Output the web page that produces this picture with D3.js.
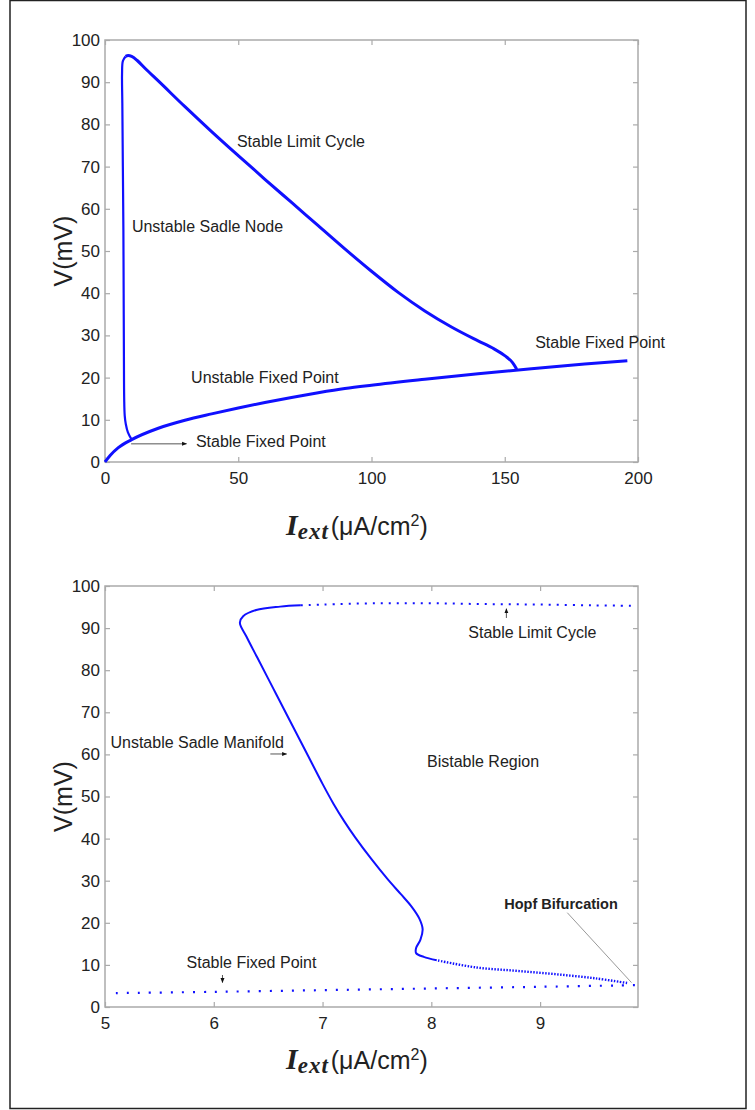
<!DOCTYPE html>
<html>
<head>
<meta charset="utf-8">
<script src="https://cdn.jsdelivr.net/npm/d3@7/dist/d3.min.js"></script>
<style>
  body { margin: 0; background: #fff; }
  svg { display: block; }
  .tick text { font-family: "Liberation Sans", Arial, sans-serif; font-size: 17px; fill: #222; }
  .tick line { stroke: #aaa; stroke-width: 1.2; }
  .note { font-family: "Liberation Sans", Arial, sans-serif; font-size: 16px; fill: #222; }
</style>
</head>
<body>
<svg id="chart" width="755" height="1110"></svg>
<script>
// ---- top panel: bifurcation diagram, I_ext 0..200 ----
const topXTicks = [0, 50, 100, 150, 200];
const vTicks = [0, 10, 20, 30, 40, 50, 60, 70, 80, 90, 100];

// fixed point branch [I, V]
const topFixedBranch = [[0,0],[2,1.6],[5,3.4],[10,5.3],[20,8],[30,9.9],[40,11.4],[50,12.8],[60,14.1],
  [70,15.3],[80,16.4],[90,17.4],[100,18.2],[120,19.6],[140,20.9],[160,22.1],[180,23.2],[196,24]];
// saddle node branch going up from the junction
const topSaddleBranch = [[10,5.3],[8.6,7],[7.8,9],[7.4,11],[7.2,15],[7.1,25],[7.0,40],[6.9,55],
  [6.7,70],[6.5,85],[6.4,92],[6.7,95],[7.7,96.1]];
// limit cycle maximum
const topLimitCycle = [[7.7,96.1],[8.7,96.3],[10,96.1],[12,95.2],[15,93.3],[20,90.3],[30,84.2],
  [40,78.3],[50,72.6],[60,67],[70,61.5],[80,56],[90,50.5],[100,45.2],[110,40.2],[120,35.8],
  [130,32],[140,28.7],[146,26.8],[150,25.2],[153,23.5],[154.5,22]];

const topNotes = [
  {text: "Stable Limit Cycle", I: 49.5, V: 74.6},
  {text: "Unstable Sadle Node", I: 10.1, V: 54.5},
  {text: "Stable Fixed Point", I: 161.4, V: 27.1},
  {text: "Unstable Fixed Point", I: 32.3, V: 18.7},
  {text: "Stable Fixed Point", I: 34.1, V: 3.5}
];
const topArrows = [{from: [9.8, 4.3], to: [30.6, 4.3]}];

// ---- bottom panel: zoom on I_ext 5..9.9 ----
const botXTicks = [5, 6, 7, 8, 9];
const botStableFixed = [[5.1,3.3],[6,3.6],[7,4.0],[8,4.4],[9,4.8],[9.9,5.2]];
const botHopfBranch = [[9.8,5.7],[9.51,6.8],[9.14,7.8],[8.78,8.6],[8.41,9.4],[8.05,11.1]];
const botManifold = [[8.05,11.1],[7.93,11.9],[7.86,12.8],[7.86,14],[7.9,16],[7.92,18.5],[7.89,21],
  [7.82,23.8],[7.72,26.8],[7.6,30.3],[7.45,35.1],[7.3,40.3],[7.2,44.1],[7.1,48.3],[7.0,53],
  [6.85,60.5],[6.7,68],[6.55,75.5],[6.4,83],[6.3,88],[6.24,91.3],[6.27,92.8],[6.39,94.3],
  [6.61,95.1],[6.8,95.4]];
const botStableCycle = [[6.8,95.4],[7.0,95.6],[7.5,95.9],[8,95.9],[8.5,95.7],[9,95.6],[9.5,95.4],[9.88,95.3]];

const botNotes = [
  {text: "Stable Limit Cycle", I: 8.34, V: 87.6},
  {text: "Bistable Region", I: 7.96, V: 57},
  {text: "Unstable Sadle Manifold", I: 5.05, V: 61.5},
  {text: "Stable Fixed Point", I: 5.75, V: 9.3},
  {text: "Hopf Bifurcation", I: 8.67, V: 23.3, bold: true}
];
const botArrows = [
  {from: [8.69, 92.4], to: [8.69, 94.6]},
  {from: [6.52, 60.1], to: [6.67, 60.1]},
  {from: [6.08, 7.6], to: [6.08, 5.8]}
];
const botHopfLine = [[9.25, 22.4], [9.84, 5.8]];

const svg = d3.select('#chart');

// page frame
svg.append('rect')
  .attr('x', 10).attr('y', 0.5)
  .attr('width', 736).attr('height', 1108)
  .attr('fill', 'none').attr('stroke', '#222').attr('stroke-width', 1.5);

svg.append('defs').append('marker')
  .attr('id', 'arrow')
  .attr('viewBox', '0 0 10 10')
  .attr('refX', 9).attr('refY', 5)
  .attr('markerWidth', 5).attr('markerHeight', 5)
  .attr('orient', 'auto')
  .append('path')
  .attr('d', 'M0,1 L10,5 L0,9 z')
  .attr('fill', '#111');

function drawPanel(p) {
  let x = d3.scaleLinear().domain(p.xDomain).range([105, 638]);
  let y = d3.scaleLinear().domain([0, 100]).range([p.bottom, p.top]);
  let g = svg.append('g');

  // bottom axis with labels
  g.append('g')
    .attr('transform', 'translate(0,' + p.bottom + ')')
    .call(d3.axisBottom(x).tickValues(p.xTicks).tickFormat(d3.format('d'))
      .tickSizeInner(-5).tickSizeOuter(0).tickPadding(10))
    .call(a => a.select('.domain').remove());
  // top axis, ticks only
  g.append('g')
    .attr('transform', 'translate(0,' + p.top + ')')
    .call(d3.axisTop(x).tickValues(p.xTicks).tickSizeInner(-5).tickSizeOuter(0).tickFormat(''))
    .call(a => a.select('.domain').remove());
  // left axis with labels
  g.append('g')
    .attr('transform', 'translate(105,0)')
    .call(d3.axisLeft(y).tickValues(vTicks).tickSizeInner(-5).tickSizeOuter(0).tickPadding(5))
    .call(a => a.select('.domain').remove());
  // right axis, ticks only
  g.append('g')
    .attr('transform', 'translate(638,0)')
    .call(d3.axisRight(y).tickValues(vTicks).tickSizeInner(-5).tickSizeOuter(0).tickFormat(''))
    .call(a => a.select('.domain').remove());

  // box
  g.append('rect')
    .attr('x', 105).attr('y', p.top)
    .attr('width', 533).attr('height', p.bottom - p.top)
    .attr('fill', 'none').attr('stroke', '#aaa').attr('stroke-width', 1.5);

  p.series.forEach(s => {
    let line = d3.line().x(d => x(d[0])).y(d => y(d[1])).curve(s.curve || d3.curveCatmullRom);
    g.append('path')
      .datum(s.data)
      .attr('d', line)
      .attr('fill', 'none')
      .attr('stroke', '#1010ff')
      .attr('stroke-width', s.width)
      .attr('stroke-dasharray', s.dash || null)
      .attr('stroke-linejoin', 'round');
  });

  if (p.guide) {
    g.append('line')
      .attr('x1', x(p.guide[0][0])).attr('y1', y(p.guide[0][1]))
      .attr('x2', x(p.guide[1][0])).attr('y2', y(p.guide[1][1]))
      .attr('stroke', '#999').attr('stroke-width', 1);
  }

  p.arrows.forEach(a => {
    g.append('line')
      .attr('x1', x(a.from[0])).attr('y1', y(a.from[1]))
      .attr('x2', x(a.to[0])).attr('y2', y(a.to[1]))
      .attr('stroke', '#555').attr('stroke-width', 1)
      .attr('marker-end', 'url(#arrow)');
  });

  p.notes.forEach(n => {
    g.append('text')
      .attr('class', 'note')
      .attr('x', x(n.I)).attr('y', y(n.V))
      .style('font-weight', n.bold ? 'bold' : null)
      .style('font-size', n.bold ? '14.5px' : null)
      .text(n.text);
  });

  // y title
  g.append('text')
    .attr('transform', 'translate(72,' + (p.top + p.bottom) / 2 + ') rotate(-90)')
    .attr('text-anchor', 'middle')
    .style('font-family', '"Liberation Sans", Arial, sans-serif')
    .style('font-size', '25px')
    .attr('fill', '#222')
    .text('V(mV)');

  // x title: I_ext (μA/cm²)
  let t = g.append('text')
    .attr('x', 286).attr('y', p.titleY)
    .attr('fill', '#222');
  t.append('tspan')
    .style('font-family', '"Liberation Serif", "Times New Roman", serif')
    .style('font-style', 'italic').style('font-weight', 'bold')
    .style('font-size', '30px')
    .text('I');
  t.append('tspan')
    .attr('dy', 4)
    .style('font-family', '"Liberation Serif", "Times New Roman", serif')
    .style('font-style', 'italic').style('font-weight', 'bold')
    .style('font-size', '23px')
    .style('letter-spacing', '1px')
    .text('ext');
  t.append('tspan')
    .attr('dy', -4).attr('dx', 2)
    .style('font-family', '"Liberation Sans", Arial, sans-serif')
    .style('font-size', '25px')
    .text('(μA/cm');
  t.append('tspan')
    .attr('dy', -9)
    .style('font-family', '"Liberation Sans", Arial, sans-serif')
    .style('font-size', '16px')
    .text('2');
  t.append('tspan')
    .attr('dy', 9)
    .style('font-family', '"Liberation Sans", Arial, sans-serif')
    .style('font-size', '25px')
    .text(')');
}

drawPanel({
  xDomain: [0, 200], xTicks: topXTicks, top: 40, bottom: 462, titleY: 535,
  series: [
    {data: topFixedBranch, width: 3, curve: d3.curveMonotoneX},
    {data: topSaddleBranch, width: 2.2},
    {data: topLimitCycle, width: 3, curve: d3.curveMonotoneX}
  ],
  notes: topNotes, arrows: topArrows
});

drawPanel({
  xDomain: [5, 9.9], xTicks: botXTicks, top: 586, bottom: 1007, titleY: 1069,
  series: [
    {data: botStableFixed, width: 2.2, dash: '2,9'},
    {data: botHopfBranch, width: 2.4, dash: '1.5,1.5'},
    {data: botManifold, width: 2},
    {data: botStableCycle, width: 2, dash: '2,6'}
  ],
  notes: botNotes, arrows: botArrows, guide: botHopfLine
});
</script>
</body>
</html>
